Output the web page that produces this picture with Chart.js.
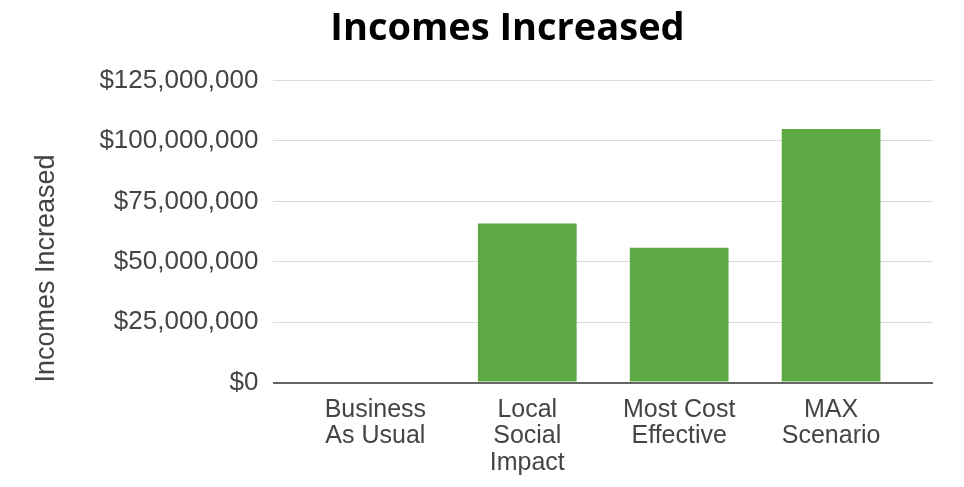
<!DOCTYPE html>
<html>
<head>
<meta charset="utf-8">
<script src="https://cdn.jsdelivr.net/npm/chart.js@4.4.1/dist/chart.umd.min.js"></script>
<style>
  html, body { margin: 0; padding: 0; background: #fff; }
  .chart-container { width: 964px; height: 487px; }
</style>
</head>
<body>
<div class="chart-container">
  <canvas id="incomesChart"></canvas>
</div>
<script>
const categories = [
  ['Business', 'As Usual'],
  ['Local', 'Social', 'Impact'],
  ['Most Cost', 'Effective'],
  ['MAX', 'Scenario']
];
const incomes = [0, 65800000, 55800000, 105000000];
const yTicks = [0, 25000000, 50000000, 75000000, 100000000, 125000000];

const formatMoney = (v) => '$' + v.toLocaleString('en-US');

// the chart title sits a bit right of the canvas centre in the original
const titleShift = {
  id: 'titleShift',
  afterLayout(chart) {
    chart.titleBlock.left += 52;
  },
};

const ctx = document.getElementById('incomesChart');

new Chart(ctx, {
  type: 'bar',
  data: {
    datasets: [
      {
        label: 'Incomes Increased',
        data: incomes.map((v, i) => ({ x: i, y: v })),
        backgroundColor: '#5DAA45',
        borderWidth: 0,
        barPercentage: 0.65,
        categoryPercentage: 1,
      },
    ],
  },
  plugins: [titleShift],
  options: {
    responsive: true,
    maintainAspectRatio: false,
    animation: false,
    layout: {
      padding: { left: 30, right: 31, top: 6, bottom: 5 },
    },
    plugins: {
      legend: { display: false },
      tooltip: { enabled: false },
      title: {
        display: true,
        text: 'Incomes Increased',
        color: '#000',
        font: { family: 'Open Sans', size: 38, weight: 'bold' },
        padding: { top: 0, bottom: 29 },
      },
    },
    scales: {
      x: {
        type: 'linear',
        offset: false,
        min: -0.671,
        max: 3.671,
        afterBuildTicks: (scale) => {
          scale.ticks = categories.map((c, i) => ({ value: i }));
        },
        grid: { display: false },
        border: { display: false },
        ticks: {
          color: '#444',
          padding: 6,
          maxRotation: 0,
          autoSkip: false,
          font: { family: 'Liberation Sans', size: 25, lineHeight: 1.06 },
          callback: (value) => categories[value],
        },
      },
      y: {
        min: 0,
        max: 125000000,
        afterBuildTicks: (scale) => {
          scale.ticks = yTicks.map((v) => ({ value: v }));
        },
        grid: {
          drawTicks: false,
          color: (c) => (c.tick && c.tick.value === 0 ? '#666' : '#dadada'),
          lineWidth: (c) => (c.tick && c.tick.value === 0 ? 2 : 1),
        },
        border: { display: false },
        ticks: {
          color: '#444',
          padding: 15,
          font: { family: 'Liberation Sans', size: 26 },
          callback: (value) => formatMoney(value),
        },
        title: {
          display: true,
          text: 'Incomes Increased',
          align: 'start',
          color: '#444',
          font: { family: 'Liberation Sans', size: 27 },
          padding: { top: 0, bottom: 22 },
        },
      },
    },
  },
});
</script>
</body>
</html>
